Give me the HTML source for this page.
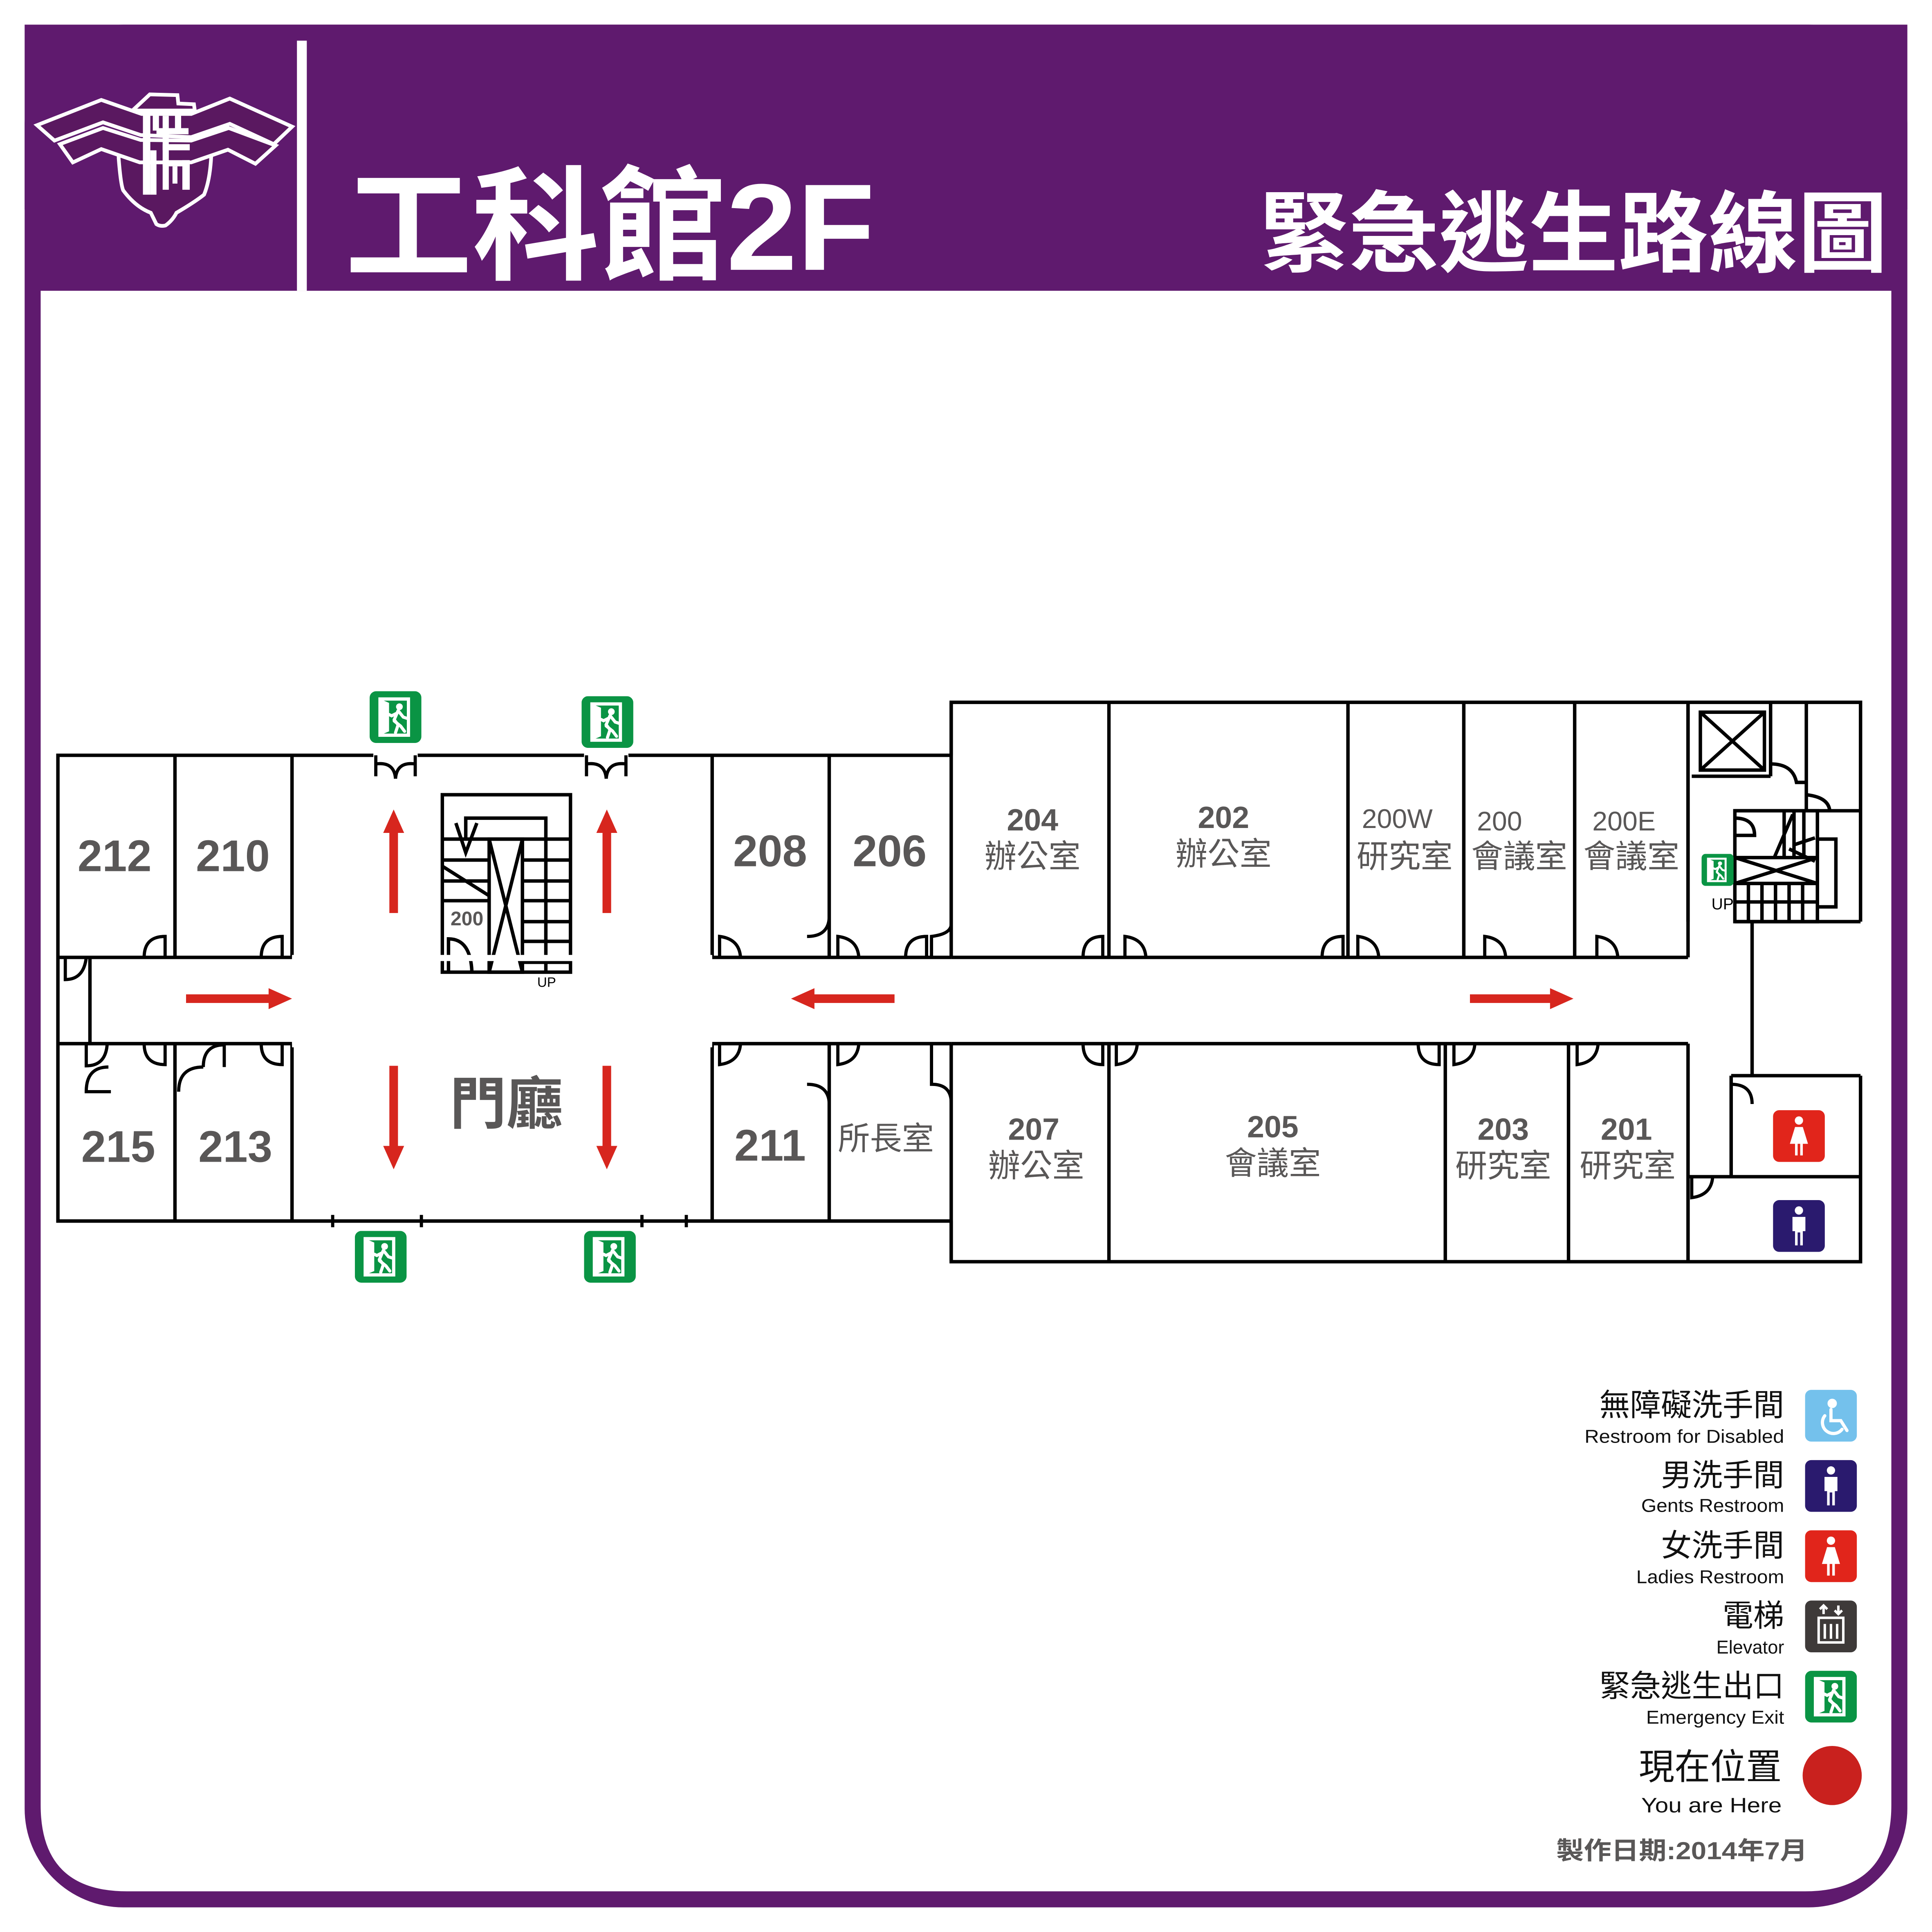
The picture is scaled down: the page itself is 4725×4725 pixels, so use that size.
<!DOCTYPE html>
<html><head><meta charset="utf-8"><style>
html,body{margin:0;padding:0;background:#fff;}
svg{display:block;}
text{font-family:"Liberation Sans","Noto Sans CJK TC",sans-serif;}
</style></head><body>
<svg width="4725" height="4725" viewBox="0 0 1568 1568" xmlns="http://www.w3.org/2000/svg">
<defs>
<symbol id="ex" viewBox="0 0 40 40">
<rect x="0" y="0" width="40" height="40" rx="5" fill="#0a9444"/>
<path d="M8 6 H30 V34 H8 Z" fill="none" stroke="#fff" stroke-width="2.5"/>
<path d="M8 6 L15 9 V31 L8 34 Z" fill="#fff"/>
<circle cx="23" cy="12" r="2.6" fill="#fff"/>
<path d="M22 15 L19 22 L22 26 L20 32 M22 15 L26 20 L29 21 M21 17 L17 19 L15 18 M19 23 L24 27 L27 31" stroke="#fff" stroke-width="2.4" fill="none" stroke-linecap="round"/>
</symbol>
<symbol id="man" viewBox="0 0 40 40">
<circle cx="20" cy="8" r="3.2" fill="#fff"/>
<path d="M15 13 H25 V24 H23 V35 H21 V25 H19 V35 H17 V24 H15 Z" fill="#fff"/>
</symbol>
<symbol id="woman" viewBox="0 0 40 40">
<circle cx="20" cy="8" r="3.2" fill="#fff"/>
<path d="M17 13 H23 L27 26 H23 V35 H21 V26 H19 V35 H17 V26 H13 Z" fill="#fff"/>
</symbol>
</defs>

<!-- frame -->
<rect x="20" y="20" width="1528" height="1528" rx="80" fill="#5f1a6e"/>
<rect x="20" y="20" width="1528" height="150" fill="#5f1a6e"/>
<path d="M33 236 H1535 V1465 Q1535 1535 1465 1535 H103 Q33 1535 33 1465 Z" fill="#fff"/>
<rect x="241" y="33" width="8" height="203" fill="#fff"/>

<!-- logo -->
<g fill="#5a1860" stroke="#fff" stroke-width="3" stroke-linejoin="miter">
<path d="M107.5 89.7 L121.6 76.6 L144 77.2 L144.7 84 L157.4 84.6 L158.1 89.7 Z"/>
<path d="M96.3 122 L96.3 128.4 Q98 150 100 154.5 Q110 168 122.4 172.7 Q125 178 126.9 181.9 Q130 184 134.3 183 Q140 179 143.2 172.7 Q158 164 165.6 158 Q171 145 171.6 122 Z"/>
<path d="M30 101.6 L82.2 81.1 L114.9 92.5 L155.2 92.5 L186.5 80 L237.1 102.8 L222.2 117 L186.5 100.5 L155.2 111.3 L114.2 109.6 L83.6 99.3 L44.2 114.1 Z"/>
<path d="M48.6 117 L83.6 103.9 L114.2 113.6 L155.2 114.1 L185.7 103.9 L223.7 118.1 L207.3 132.9 L185 121.5 L155.2 131.8 L113.4 131.8 L82.2 121 L59.1 131.8 Z"/>
</g>
<g fill="#fff">
<rect x="116" y="90" width="6" height="68"/>
<rect x="124" y="90" width="5" height="16"/>
<rect x="127" y="104" width="26" height="5"/>
<rect x="132" y="94" width="5" height="60"/>
<rect x="142" y="90" width="5" height="16"/>
<rect x="132" y="117" width="22" height="5"/>
<rect x="132" y="130" width="22" height="5"/>
<rect x="148" y="130" width="6" height="24"/>
<rect x="122" y="122" width="5" height="36"/>
<rect x="140" y="135" width="4" height="14"/>
</g>

<text x="280" y="219" font-size="100" font-weight="bold" fill="#fff" textLength="430" lengthAdjust="spacingAndGlyphs">工科館2F</text>
<text x="1022" y="215" font-size="72" font-weight="bold" fill="#fff" textLength="510" lengthAdjust="spacingAndGlyphs">緊急逃生路線圖</text>

<!-- floor plan walls -->
<g fill="none" stroke="#000" stroke-width="2.8" stroke-linejoin="miter">
<path d="M772 613 H47 V991 H772"/>
<line x1="47" y1="777" x2="237" y2="777"/>
<line x1="47" y1="847" x2="237" y2="847"/>
<line x1="142" y1="613" x2="142" y2="777"/>
<line x1="237" y1="613" x2="237" y2="777"/>
<line x1="142" y1="847" x2="142" y2="991"/>
<line x1="237" y1="847" x2="237" y2="991"/>
<line x1="578" y1="613" x2="578" y2="777"/>
<line x1="673" y1="613" x2="673" y2="777"/>
<line x1="578" y1="777" x2="772" y2="777"/>
<line x1="578" y1="847" x2="772" y2="847"/>
<line x1="578" y1="847" x2="578" y2="991"/>
<line x1="673" y1="847" x2="673" y2="991"/>
<line x1="73" y1="777" x2="73" y2="847"/>
<path d="M772 613 V570 H1510 V748"/>
<path d="M772 991 V1024 H1510 V873"/>
<line x1="772" y1="570" x2="772" y2="777"/>
<line x1="900" y1="570" x2="900" y2="777"/>
<line x1="1094" y1="570" x2="1094" y2="777"/>
<line x1="1188" y1="570" x2="1188" y2="777"/>
<line x1="1278" y1="570" x2="1278" y2="777"/>
<line x1="1370" y1="570" x2="1370" y2="777"/>
<line x1="772" y1="777" x2="1370" y2="777"/>
<line x1="772" y1="847" x2="1370" y2="847"/>
<line x1="772" y1="847" x2="772" y2="1024"/>
<line x1="900" y1="847" x2="900" y2="1024"/>
<line x1="1173" y1="847" x2="1173" y2="1024"/>
<line x1="1273" y1="847" x2="1273" y2="1024"/>
<line x1="1370" y1="847" x2="1370" y2="1024"/>
<line x1="1422" y1="748" x2="1422" y2="873"/>
<line x1="1405" y1="873" x2="1510" y2="873"/>
<line x1="1405" y1="873" x2="1405" y2="955"/>
<line x1="1370" y1="955" x2="1510" y2="955"/>
<line x1="1370" y1="570" x2="1370" y2="748"/>
<line x1="1466" y1="570" x2="1466" y2="658"/>
<line x1="1437" y1="570" x2="1437" y2="630"/>
<line x1="1373" y1="630" x2="1437" y2="630"/>
<line x1="1408" y1="658" x2="1510" y2="658"/>
<line x1="1408" y1="748" x2="1510" y2="748"/>
<rect x="1380" y="578" width="52" height="47"/>
<path d="M1380 578 L1432 625 M1432 578 L1380 625"/>
<rect x="1408" y="658" width="67" height="90"/>
<path d="M1475 681 H1490 V736 H1475"/>
<path d="M1408 696 H1475 M1408 717 H1475 M1408 696 L1475 717 M1475 696 L1408 717"/>
<path d="M1419 717 V748 M1430 717 V748 M1441 717 V748 M1452 717 V748 M1463 717 V748 M1408 732 H1475"/>
<path d="M1448 658 V696 M1456 658 V696 M1464 658 V696 M1440 696 L1455 661 M1455 686 L1473 680 M1452 689 L1473 699"/>
<path d="M1437 630 V620 Q1455 620 1458 635 H1466"/>
<path d="M1466 645 Q1484 647 1485 658"/>
<path d="M1408 664 Q1424 664 1424 678 L1408 678"/>
<rect x="359" y="645" width="104" height="144"/>
<path d="M378 681 V664 H443 V681"/>
<path d="M359 681 H463 M359 698 H397 M359 715 H397 M359 731 H397 M424 698 H463 M424 715 H463 M424 731 H463 M424 748 H463 M424 764 H463 M424 781 H463"/>
<rect x="397" y="681" width="27" height="108"/>
<path d="M397 681 L424 789 M424 681 L397 789"/>
<line x1="443" y1="681" x2="443" y2="789"/>
<path d="M370 668 L378 692 L387 668 M359 703 L397 727"/>
<path d="M364 789 V762 Q382 762 383 789"/>
</g>
<g fill="none" stroke="#000" stroke-width="2.6">
<rect x="303" y="610" width="36" height="7" fill="#fff" stroke="none"/>
<path d="M305 630 V613 M337 630 V613 M305 620 Q320 618 321 632 M337 620 Q322 618 321 632"/>
<rect x="474" y="610" width="36" height="7" fill="#fff" stroke="none"/>
<path d="M476 630 V613 M508 630 V613 M476 620 Q491 618 492 632 M508 620 Q493 618 492 632"/>
<rect x="237" y="775" width="341" height="5" fill="#fff" stroke="none"/>
<rect x="237" y="845" width="341" height="5" fill="#fff" stroke="none"/>
<path d="M270 986 V996 M342 986 V996 M521 986 V996 M557 986 V996"/>
<path d="M117 777 Q117 760 134 760 V777"/>
<path d="M212 777 Q212 760 229 760 V777"/>
<path d="M53 777 V795 Q68 795 70 777"/>
<path d="M584 777 V760 Q600 762 601 777"/>
<path d="M655 760 Q672 760 673 745"/>
<path d="M680 777 V760 Q696 762 697 777"/>
<path d="M735 777 Q735 760 752 760 V777"/>
<path d="M756 777 V760 Q772 758 772 750"/>
<path d="M879 777 Q879 760 895 760 V777"/>
<path d="M913 777 V760 Q929 762 930 777"/>
<path d="M1073 777 Q1073 760 1090 760 V777"/>
<path d="M1102 777 V760 Q1118 762 1119 777"/>
<path d="M1205 777 V760 Q1221 762 1222 777"/>
<path d="M1296 777 V760 Q1312 762 1313 777"/>
<path d="M70 847 V865 Q86 865 87 847"/>
<path d="M88 866 Q70 866 70 886 H90"/>
<path d="M117 847 Q117 864 134 864 V847"/>
<path d="M165 866 Q165 848 182 848 V866"/>
<path d="M145 886 Q145 866 165 866"/>
<path d="M212 847 Q212 864 229 864 V847"/>
<path d="M584 847 V864 Q600 862 601 847"/>
<path d="M655 880 Q672 880 673 895"/>
<path d="M680 847 V864 Q696 862 697 847"/>
<path d="M756 847 V880 Q772 880 772 895"/>
<path d="M879 847 Q879 864 895 864 V847"/>
<path d="M906 847 V864 Q922 862 923 847"/>
<path d="M1151 847 Q1151 864 1168 864 V847"/>
<path d="M1180 847 V864 Q1196 862 1197 847"/>
<path d="M1280 847 V864 Q1296 862 1297 847"/>
<path d="M1405 880 Q1422 880 1422 896"/>
<path d="M1373 955 V972 Q1389 970 1390 955"/>
</g>

<g font-weight="bold" fill="#595757" font-size="36" text-anchor="middle">
<text x="93" y="707">212</text><text x="189" y="707">210</text>
<text x="625" y="703">208</text><text x="722" y="703">206</text>
<text x="96" y="943">215</text><text x="191" y="943">213</text>
<text x="625" y="942">211</text>
</g>
<g fill="#595757" text-anchor="middle">
<text x="838" y="674" font-size="25" font-weight="bold">204</text><text x="838" y="704" font-size="26">辦公室</text>
<text x="993" y="672" font-size="25" font-weight="bold">202</text><text x="993" y="702" font-size="26">辦公室</text>
<text x="1134" y="672" font-size="22">200W</text><text x="1140" y="704" font-size="26">研究室</text>
<text x="1217" y="674" font-size="22">200</text><text x="1233" y="704" font-size="26">會議室</text>
<text x="1318" y="674" font-size="22">200E</text><text x="1324" y="704" font-size="26">會議室</text>
<text x="839" y="925" font-size="25" font-weight="bold">207</text><text x="841" y="955" font-size="26">辦公室</text>
<text x="1033" y="923" font-size="25" font-weight="bold">205</text><text x="1033" y="953" font-size="26">會議室</text>
<text x="1220" y="925" font-size="25" font-weight="bold">203</text><text x="1220" y="955" font-size="26">研究室</text>
<text x="1320" y="925" font-size="25" font-weight="bold">201</text><text x="1321" y="955" font-size="26">研究室</text>
<text x="719" y="933" font-size="26">所長室</text>
<text x="411" y="912" font-size="46" font-weight="bold">門廳</text>
<text x="379" y="751" font-size="16" font-weight="bold">200</text>
</g>
<text x="436" y="801" font-size="11" font-family="Liberation Serif,serif" fill="#000">UP</text>
<text x="1389" y="738" font-size="13" font-family="Liberation Serif,serif" fill="#000">UP</text>

<g fill="#d7261e">
<rect x="316" y="675" width="7" height="66"/><path d="M311 676 L319.5 657 L328 676 Z"/>
<rect x="489" y="675" width="7" height="66"/><path d="M484 676 L492.5 657 L501 676 Z"/>
<rect x="316" y="865" width="7" height="66"/><path d="M311 930 L319.5 949 L328 930 Z"/>
<rect x="489" y="865" width="7" height="66"/><path d="M484 930 L492.5 949 L501 930 Z"/>
<rect x="151" y="807" width="68" height="7"/><path d="M218 802 L237 810.5 L218 819 Z"/>
<rect x="660" y="807" width="66" height="7"/><path d="M661 802 L642 810.5 L661 819 Z"/>
<rect x="1193" y="807" width="66" height="7"/><path d="M1258 802 L1277 810.5 L1258 819 Z"/>
</g>

<use href="#ex" x="300" y="561" width="42" height="42"/>
<use href="#ex" x="472" y="565" width="42" height="42"/>
<use href="#ex" x="288" y="999" width="42" height="42"/>
<use href="#ex" x="474" y="999" width="42" height="42"/>
<use href="#ex" x="1381" y="693" width="26" height="26"/>
<rect x="1439" y="901" width="42" height="42" rx="5" fill="#e1251b"/>
<use href="#woman" x="1439" y="901" width="42" height="42"/>
<rect x="1439" y="974" width="42" height="42" rx="5" fill="#2a1a6e"/>
<use href="#man" x="1439" y="974" width="42" height="42"/>

<g fill="#111" text-anchor="end">
<text x="1448" y="1149" font-size="25">無障礙洗手間</text>
<text x="1448" y="1171" font-size="15" textLength="162" lengthAdjust="spacingAndGlyphs">Restroom for Disabled</text>
<text x="1448" y="1206" font-size="25">男洗手間</text>
<text x="1448" y="1227" font-size="15" textLength="116" lengthAdjust="spacingAndGlyphs">Gents Restroom</text>
<text x="1448" y="1263" font-size="25">女洗手間</text>
<text x="1448" y="1285" font-size="15" textLength="120" lengthAdjust="spacingAndGlyphs">Ladies Restroom</text>
<text x="1448" y="1320" font-size="25">電梯</text>
<text x="1448" y="1342" font-size="15">Elevator</text>
<text x="1448" y="1377" font-size="25">緊急逃生出口</text>
<text x="1448" y="1399" font-size="15" textLength="112" lengthAdjust="spacingAndGlyphs">Emergency Exit</text>
<text x="1446" y="1444" font-size="29">現在位置</text>
<text x="1446" y="1471" font-size="17" textLength="114" lengthAdjust="spacingAndGlyphs">You are Here</text>
</g>
<text x="1467" y="1509" font-size="20" font-weight="bold" fill="#595757" text-anchor="end" textLength="204" lengthAdjust="spacingAndGlyphs">製作日期:2014年7月</text>
<rect x="1465" y="1128" width="42" height="42" rx="5" fill="#74c1ec"/>
<g fill="none" stroke="#fff" stroke-width="2.6" stroke-linecap="round">
<circle cx="1487" cy="1139" r="2.5" fill="#fff"/>
<path d="M1486 1144 V1153 H1494 L1499 1161"/>
<path d="M1481 1149 A8 8 0 1 0 1495 1160"/>
</g>
<rect x="1465" y="1185" width="42" height="42" rx="5" fill="#2a1a6e"/>
<use href="#man" x="1465" y="1185" width="42" height="42"/>
<rect x="1465" y="1242" width="42" height="42" rx="5" fill="#e1251b"/>
<use href="#woman" x="1465" y="1242" width="42" height="42"/>
<rect x="1465" y="1299" width="42" height="42" rx="5" fill="#3e3a39"/>
<g fill="none" stroke="#fff" stroke-width="2"><rect x="1476" y="1313" width="20" height="20"/><path d="M1480 1303 V1310 M1477 1306 L1480 1303 L1483 1306 M1492 1303 V1310 M1489 1307 L1492 1310 L1495 1307 M1481 1318 V1330 M1486 1318 V1330 M1491 1318 V1330"/></g>
<use href="#ex" x="1465" y="1356" width="42" height="42"/>
<circle cx="1487" cy="1441" r="24" fill="#c9211e"/>
</svg>
</body></html>
